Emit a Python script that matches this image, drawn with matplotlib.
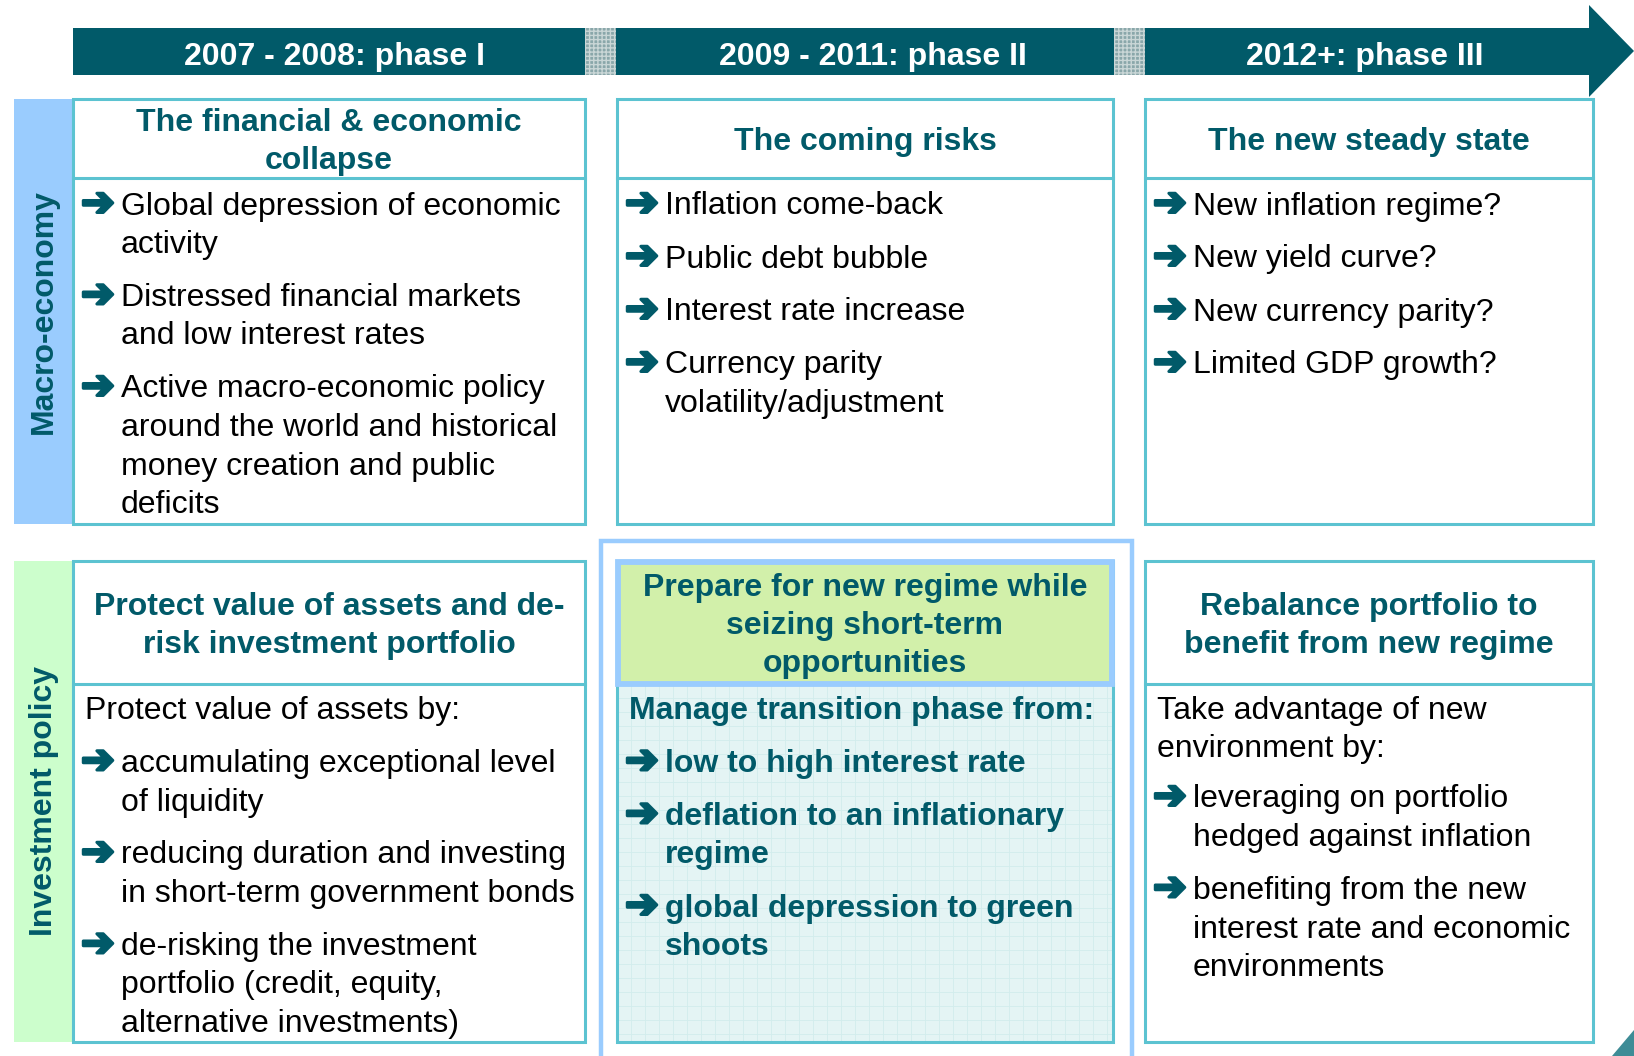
import matplotlib
matplotlib.use('Agg')
import matplotlib.pyplot as plt
import matplotlib.patheffects as pe
from matplotlib.patches import Rectangle, Polygon

# ---------------- content ----------------
phases = ["2007 - 2008: phase I", "2009 - 2011: phase II", "2012+: phase III"]
row_labels = ["Macro-economy", "Investment policy"]
macro_titles = [["The financial & economic", "collapse"],
                ["The coming risks"],
                ["The new steady state"]]
macro_bullets = [
    [["Global depression of economic", "activity"],
     ["Distressed financial markets", "and low interest rates"],
     ["Active macro-economic policy", "around the world and historical",
      "money creation and public", "deficits"]],
    [["Inflation come-back"], ["Public debt bubble"], ["Interest rate increase"],
     ["Currency parity", "volatility/adjustment"]],
    [["New inflation regime?"], ["New yield curve?"], ["New currency parity?"],
     ["Limited GDP growth?"]],
]
invest_titles = [["Protect value of assets and de-", "risk investment portfolio"],
                 ["Prepare for new regime while", "seizing short-term", "opportunities"],
                 ["Rebalance portfolio to", "benefit from new regime"]]
invest_intro = [["Protect value of assets by:"],
                ["Manage transition phase from:"],
                ["Take advantage of new", "environment by:"]]
invest_bullets = [
    [["accumulating exceptional level", "of liquidity"],
     ["reducing duration and investing", "in short-term government bonds"],
     ["de-risking the investment", "portfolio (credit, equity,", "alternative investments)"]],
    [["low to high interest rate"],
     ["deflation to an inflationary", "regime"],
     ["global depression to green", "shoots"]],
    [["leveraging on portfolio", "hedged against inflation"],
     ["benefiting from the new", "interest rate and economic", "environments"]],
]

# ---------------- style ----------------
W, H = 1634, 1056
TEAL = '#015A69'
BORDER = '#5CC3D1'
LBLUE = '#9ACCFE'
LGREEN = '#CCFECC'
FONT = 'Liberation Sans'
FS = 23

fig = plt.figure(figsize=(W / 100, H / 100), dpi=100)
ax = fig.add_axes([0, 0, 1, 1])
ax.set_xlim(0, W)
ax.set_ylim(H, 0)
ax.axis('off')

cols = [(73, 585), (617, 1113), (1145, 1593)]
rows = [(99, 524, 178), (561, 1042, 684)]
LINE = 38.5
STEP = 53.0
BASE = 11.5


def txt(x, yc, s, **kw):
    kw.setdefault('fontsize', FS)
    kw.setdefault('family', FONT)
    ax.text(x, yc + BASE, s, va='baseline', **kw)


# header arrow
ax.add_patch(Rectangle((73, 28), 1591 - 73, 47, facecolor=TEAL, edgecolor='none', zorder=1))
ax.add_patch(Polygon([(1589, 5), (1634, 51), (1589, 97)], closed=True,
                     facecolor=TEAL, edgecolor='none', zorder=1))
for sx0, sx1 in [(585, 616), (1114, 1145)]:
    ax.add_patch(Rectangle((sx0, 28), sx1 - sx0, 47, facecolor='#8AA7AA',
                           edgecolor='#C9D6D6', hatch='++++', lw=0, zorder=2))
hx = [334.5, 873, 1365]
for x, p in zip(hx, phases):
    txt(x, 54, p, color='white', fontweight='bold', ha='center', fontsize=23)

# left row labels
lab_colors = [LBLUE, LGREEN]
for (y0, y1, _), lab, c in zip(rows, row_labels, lab_colors):
    ax.add_patch(Rectangle((14, y0), 73 - 14, y1 - y0, facecolor=c, edgecolor='none', zorder=1))
    ax.text(44, (y0 + y1) / 2, lab, rotation=90, ha='center', va='center',
            fontsize=FS, family=FONT, fontweight='bold', color=TEAL)

# middle highlight (investment, phase II)
ax.add_patch(Rectangle((601, 541), 1132 - 601, 540, facecolor='white',
                       edgecolor=LBLUE, lw=3.2, zorder=1))
ax.add_patch(Rectangle((617, 684), 1113 - 617, 1042 - 684, facecolor='#E4F4F4',
                       edgecolor='none', zorder=2))
for gx in range(617, 1113, 14):
    ax.plot([gx, gx], [684, 1042], color='#D2ECEC', lw=0.6, zorder=2)
for gy in range(684, 1042, 14):
    ax.plot([617, 1113], [gy, gy], color='#D2ECEC', lw=0.6, zorder=2)

# boxes
for r, (y0, y1, ys) in enumerate(rows):
    for c, (x0, x1) in enumerate(cols):
        ax.add_patch(Rectangle((x0, y0), x1 - x0, y1 - y0, facecolor='none',
                               edgecolor=BORDER, lw=2.2, zorder=3))
        ax.plot([x0, x1], [ys, ys], color=BORDER, lw=2.2, zorder=3)

# green title box
ax.add_patch(Rectangle((618, 562), 1112 - 618, 684 - 562, facecolor='#D2F0AA',
                       edgecolor=LBLUE, lw=4.2, zorder=4))


def titles(tlist, r):
    y0, _, ys = rows[r]
    for c, lines in enumerate(tlist):
        x0, x1 = cols[c]
        n = len(lines)
        yc = (y0 + ys) / 2
        for i, s in enumerate(lines):
            y = yc + (i - (n - 1) / 2) * 38
            txt((x0 + x1) / 2, y, s, ha='center', color=TEAL, fontweight='bold', zorder=5)


titles(macro_titles, 0)
titles(invest_titles, 1)

ARROW_FX = [pe.withStroke(linewidth=2.2, foreground=TEAL)]


def bullets(items, x0, y, bold=False):
    color = TEAL if bold else 'black'
    fw = 'bold' if bold else 'normal'
    for k, item in enumerate(items):
        ax.text(x0 + 8, y + BASE + 1, '\u2794', family='DejaVu Sans', fontweight='bold',
                fontsize=29, color=TEAL, va='baseline', zorder=5, path_effects=ARROW_FX)
        for j, s in enumerate(item):
            txt(x0 + 48, y + j * LINE, s, color=color, fontweight=fw, zorder=5)
        y += (len(item) - 1) * LINE + STEP
    return y


for c, (x0, x1) in enumerate(cols):
    bullets(macro_bullets[c], x0, 203)

for c, (x0, x1) in enumerate(cols):
    y = 707.5
    bold = (c == 1)
    for j, s in enumerate(invest_intro[c]):
        txt(x0 + 12, y + j * LINE, s, color=TEAL if bold else 'black',
            fontweight='bold' if bold else 'normal', zorder=5)
    gap = STEP if len(invest_intro[c]) == 1 else 50.0
    y += (len(invest_intro[c]) - 1) * LINE + gap
    bullets(invest_bullets[c], x0, y, bold=bold)

# small corner mark
ax.add_patch(Polygon([(1634, 1030), (1634, 1056), (1612, 1056)], closed=True,
                     facecolor='#3E8C96', edgecolor='none'))

fig.savefig('out.png', dpi=100)
